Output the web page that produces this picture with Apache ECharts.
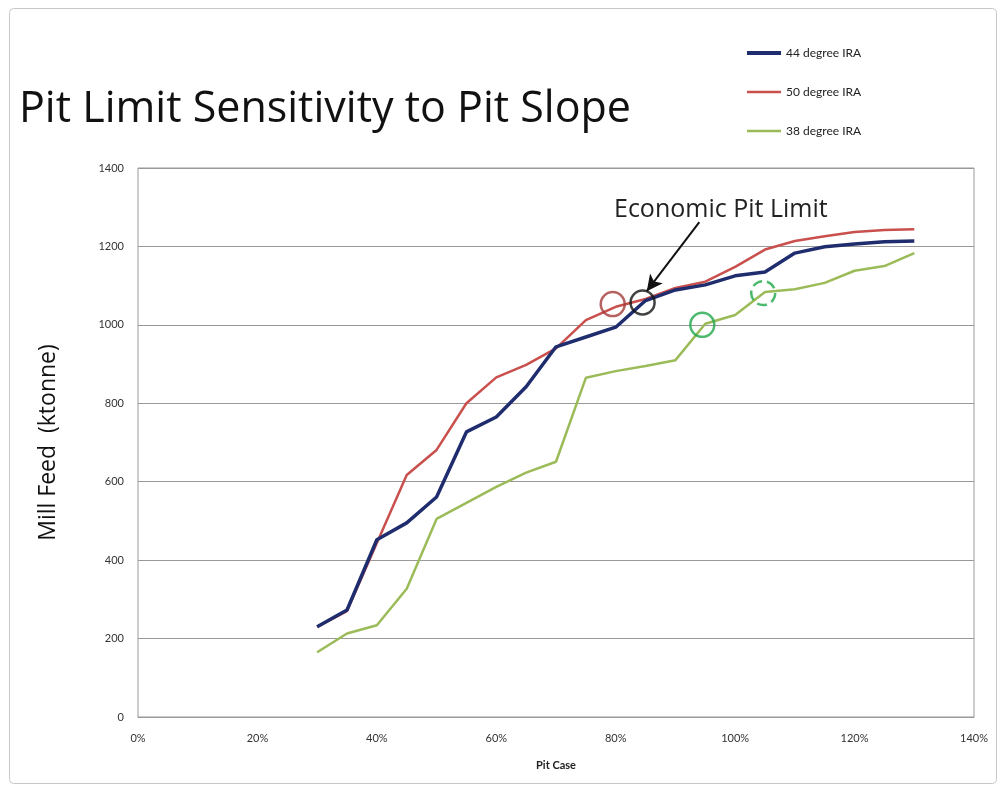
<!DOCTYPE html>
<html>
<head>
<meta charset="utf-8">
<script src="https://cdn.jsdelivr.net/npm/echarts@6/dist/echarts.min.js"></script>
<style>
  html, body { margin: 0; padding: 0; background: #fff; }
  #main { width: 1004px; height: 787px; }
</style>
</head>
<body>
<div id="main"></div>
<script>
var pitCase = [30, 35, 40, 45, 50, 55, 60, 65, 70, 75, 80, 85, 90, 95, 100, 105, 110, 115, 120, 125, 130];
var ira44 = [230, 273, 452, 495, 561, 727, 765, 842, 944, 969, 994, 1062, 1089, 1102, 1125, 1135, 1183, 1199, 1206, 1212, 1214];
var ira50 = [230, 270, 444, 617, 681, 800, 866, 898, 940, 1012, 1046, 1066, 1094, 1110, 1148, 1192, 1214, 1226, 1237, 1242, 1244];
var ira38 = [165, 213, 234, 327, 505, 546, 587, 623, 651, 865, 882, 895, 910, 1003, 1025, 1084, 1091, 1107, 1138, 1150, 1183];
var seriesNames = ['44 degree IRA', '50 degree IRA', '38 degree IRA'];

// circled points of interest [pit case %, mill feed]
var redCircle = [79.5, 1053];
var blackCircle = [84.5, 1057];
var greenCircle = [94.5, 1000];
var greenDashCircle = [104.7, 1081];
var arrowFrom = [94, 1262];
var arrowTo = [85.2, 1086];

function pairs(xs, ys) {
  return xs.map(function (x, i) { return [x, ys[i]]; });
}

var myChart = echarts.init(document.getElementById('main'));

function ring(name, pt, color, dashed) {
  return {
    name: name,
    type: 'scatter',
    data: [pt],
    symbol: 'circle',
    symbolSize: 24,
    silent: true,
    z: 5,
    itemStyle: {
      color: 'rgba(0,0,0,0)',
      borderColor: color,
      borderWidth: 2.5,
      borderType: dashed ? 'dashed' : 'solid'
    }
  };
}

var option = {
  backgroundColor: '#fff',
  animation: false,
  title: {
    text: 'Pit Limit Sensitivity to Pit Slope',
    left: 14,
    top: 83,
    textStyle: { fontFamily: 'Open Sans', fontSize: 43, fontWeight: 'normal', color: '#111' }
  },
  legend: {
    orient: 'vertical',
    left: 740,
    top: 42,
    itemGap: 27,
    itemWidth: 34,
    itemHeight: 14,
    data: [
      { name: seriesNames[0], lineStyle: { width: 4 } },
      { name: seriesNames[1], lineStyle: { width: 2.5 } },
      { name: seriesNames[2], lineStyle: { width: 2.5 } }
    ],
    itemStyle: { opacity: 0 },
    textStyle: { fontFamily: 'Lato', fontSize: 12, color: '#222' }
  },
  grid: {
    left: 138,
    right: 30,
    top: 168,
    bottom: 70,
    show: true,
    borderColor: '#999',
    borderWidth: 1
  },
  xAxis: {
    type: 'value',
    min: 0,
    max: 140,
    interval: 20,
    name: 'Pit Case',
    nameLocation: 'middle',
    nameGap: 43,
    nameTextStyle: { fontFamily: 'Lato', fontSize: 11, fontWeight: 'bold', color: '#222' },
    axisLine: { show: true, lineStyle: { color: '#999' } },
    axisTick: { show: false },
    splitLine: { show: false },
    axisLabel: {
      margin: 16,
      fontFamily: 'Lato',
      fontSize: 11,
      color: '#333',
      formatter: function (v) { return v + '%'; }
    }
  },
  yAxis: {
    type: 'value',
    min: 0,
    max: 1400,
    interval: 200,
    name: 'Mill Feed  (ktonne)',
    nameLocation: 'middle',
    nameGap: 78,
    nameTextStyle: { fontFamily: 'Open Sans', fontSize: 23, color: '#111' },
    axisLine: { show: false },
    axisTick: { show: false },
    splitLine: { show: true, lineStyle: { color: '#999', width: 1 } },
    axisLabel: {
      margin: 14,
      fontFamily: 'Lato',
      fontSize: 11,
      color: '#333',
      formatter: function (v) { return String(v); }
    }
  },
  series: [
    {
      name: seriesNames[0],
      type: 'line',
      data: pairs(pitCase, ira44),
      symbol: 'none',
      z: 4,
      lineStyle: { color: '#1f2d6e', width: 3.5 },
      itemStyle: { color: '#1f2d6e' }
    },
    {
      name: seriesNames[1],
      type: 'line',
      data: pairs(pitCase, ira50),
      symbol: 'none',
      z: 3,
      lineStyle: { color: '#c9504d', width: 2.5 },
      itemStyle: { color: '#c9504d' },
      markLine: {
        silent: true,
        symbol: ['none', 'arrow'],
        symbolSize: [12, 16],
        label: { show: false },
        lineStyle: { color: '#111', width: 2, type: 'solid' },
        data: [[{ coord: arrowFrom }, { coord: arrowTo }]]
      }
    },
    {
      name: seriesNames[2],
      type: 'line',
      data: pairs(pitCase, ira38),
      symbol: 'none',
      z: 2,
      lineStyle: { color: '#9bbb59', width: 2.5 },
      itemStyle: { color: '#9bbb59' }
    },
    ring('redRing', redCircle, '#a33b39', false),
    ring('blackRing', blackCircle, '#111', false),
    ring('greenRing', greenCircle, '#1fa84a', false),
    ring('greenDashRing', greenDashCircle, '#1fa84a', true)
  ],
  graphic: [
    {
      type: 'rect',
      shape: { x: 9.5, y: 8.5, width: 987, height: 775, r: 4 },
      style: { fill: 'none', stroke: '#c8c8c8', lineWidth: 1 },
      silent: true
    },
    {
      type: 'text',
      left: 614,
      top: 197,
      style: { text: 'Economic Pit Limit', fontFamily: 'Open Sans', fontSize: 25, fill: '#222' },
      silent: true
    }
  ]
};

myChart.setOption(option);
window.onresize = function () {
  myChart.resize();
};
</script>
</body>
</html>
